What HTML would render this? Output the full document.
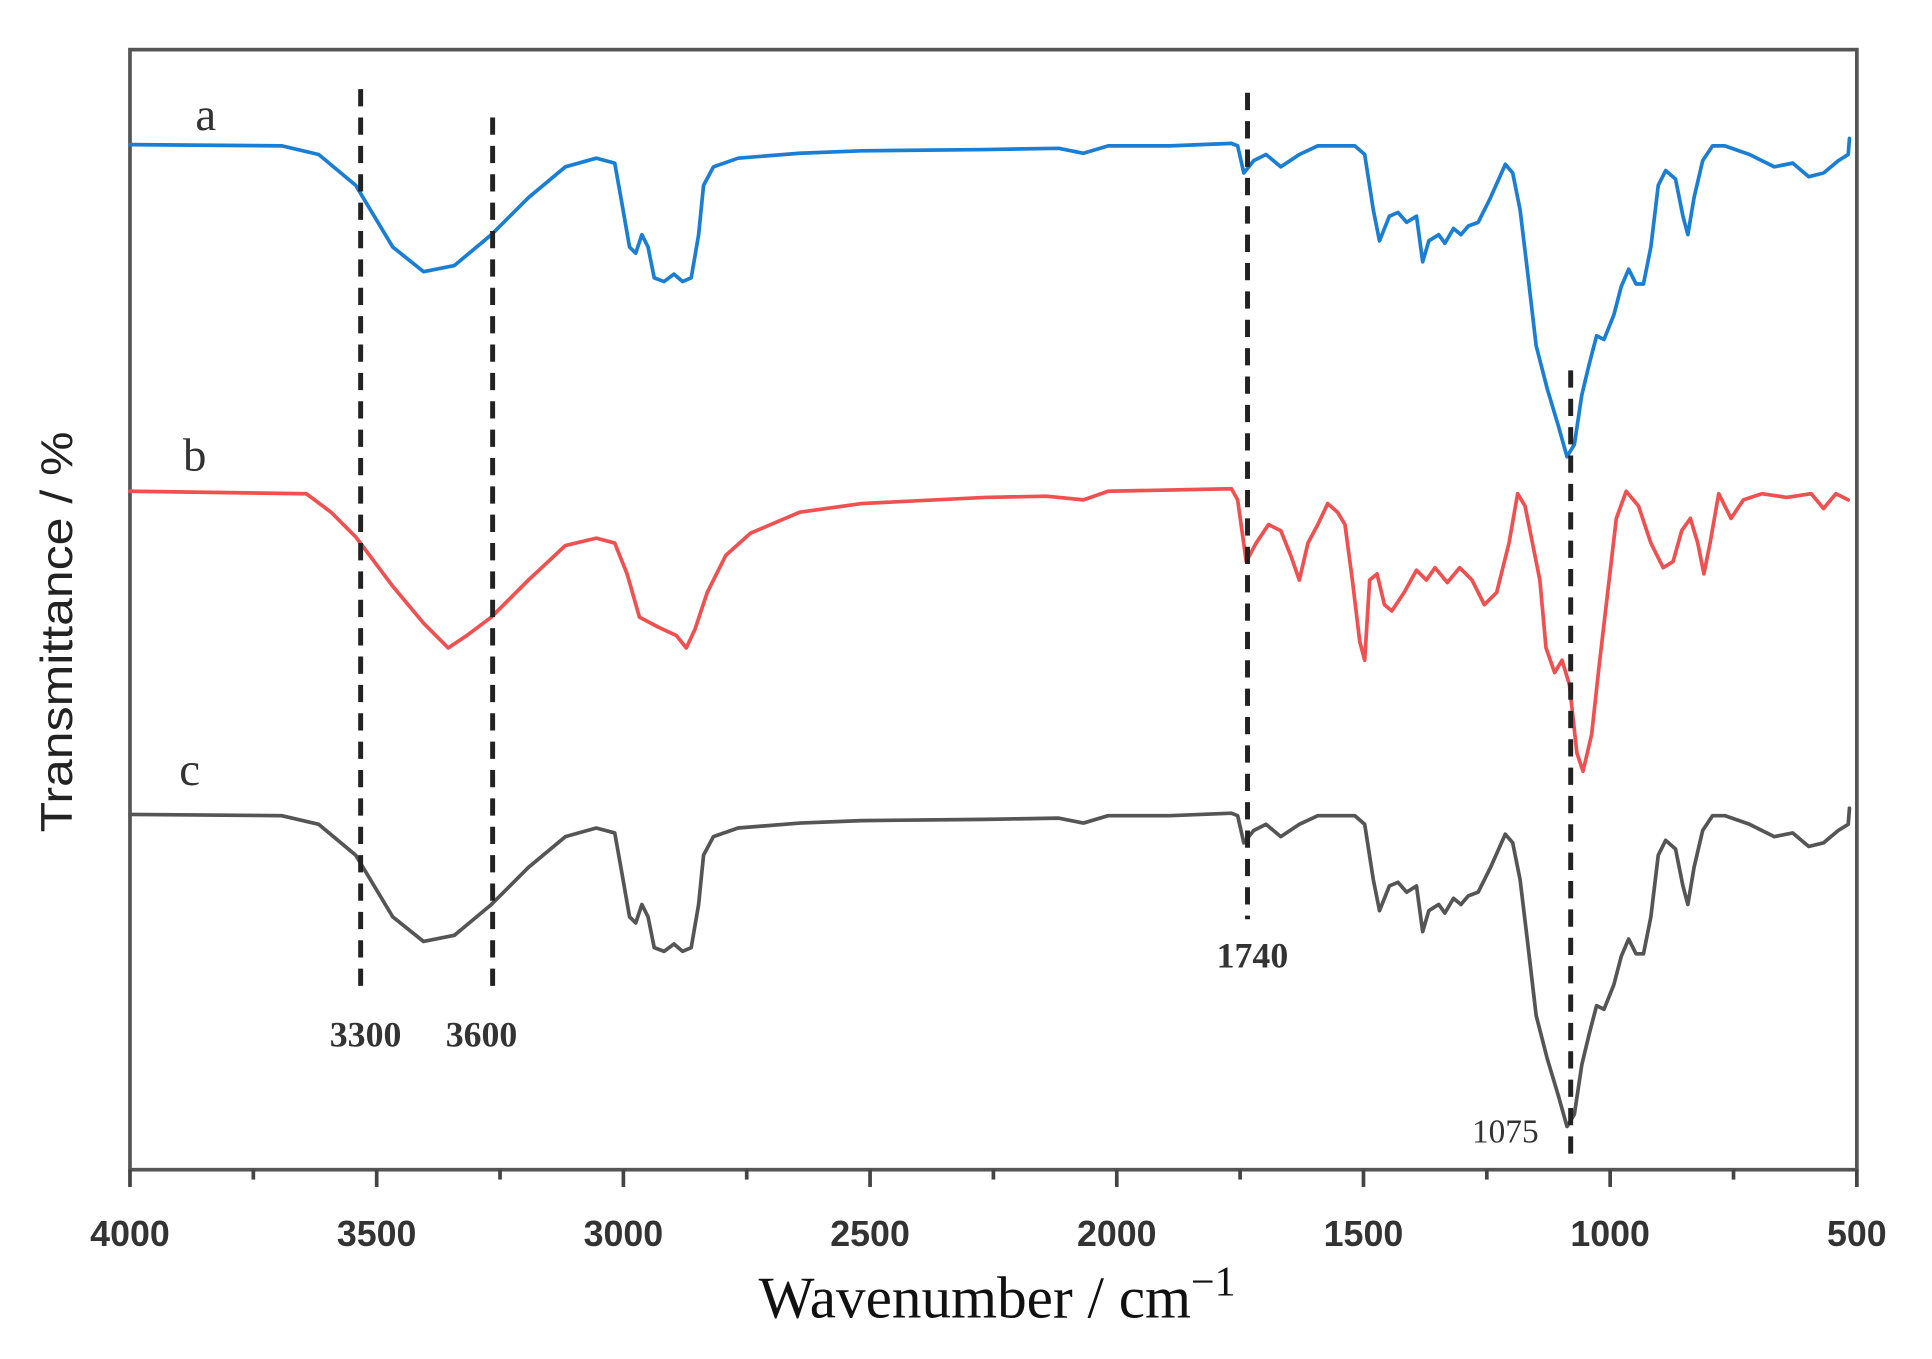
<!DOCTYPE html>
<html><head><meta charset="utf-8"><style>
html,body{margin:0;padding:0;background:#fff;}
svg{display:block;}
</style></head><body>
<svg width="1932" height="1359" viewBox="1.62 -0.24 1566.3 1101.7" preserveAspectRatio="none" xmlns="http://www.w3.org/2000/svg">
<rect x="-10" y="-10" width="1600" height="1120" fill="#fff"/>
<defs>
<polyline id="ca" fill="none" stroke-width="3" stroke-linejoin="round" stroke-linecap="round" points="107,117 230,118 260,125 290,150 320,200 345,220 370,215 400,190 430,160 460,135 485,128 500,132 505,160 512,200 517,205 522,190 527,200 532,225 540,228 548,222 555,228 562,225 568,190 572,150 580,135 600,128 650,124 700,122 800,121 860,120 880,124 900,118 950,118 1000,116 1005,118 1010,140 1018,130 1028,125 1040,135 1055,125 1070,118 1100,118 1108,125 1115,170 1120,195 1128,175 1135,172 1142,180 1150,175 1155,212 1160,195 1168,190 1173,197 1180,185 1186,190 1192,183 1200,180 1210,160 1222,133 1228,140 1234,170 1240,220 1247,280 1256,315 1265,345 1272,370 1278,360 1284,320 1290,295 1296,272 1302,275 1310,255 1316,232 1322,218 1328,230 1334,230 1340,200 1346,150 1352,138 1360,145 1366,175 1370,190 1375,160 1382,130 1390,118 1400,118 1420,125 1440,135 1455,132 1468,143 1480,140 1492,130 1500,125 1501,112"/>
</defs>
<g font-family="'Liberation Serif',serif" fill="#333">
<rect x="107" y="40" width="1400" height="908" fill="none" stroke="#555" stroke-width="3"/>
<g stroke="#444" stroke-width="3">
<line x1="107" y1="948" x2="107" y2="962"/><line x1="207" y1="948" x2="207" y2="956"/>
<line x1="307" y1="948" x2="307" y2="962"/><line x1="407" y1="948" x2="407" y2="956"/>
<line x1="507" y1="948" x2="507" y2="962"/><line x1="607" y1="948" x2="607" y2="956"/>
<line x1="707" y1="948" x2="707" y2="962"/><line x1="807" y1="948" x2="807" y2="956"/>
<line x1="907" y1="948" x2="907" y2="962"/><line x1="1007" y1="948" x2="1007" y2="956"/>
<line x1="1107" y1="948" x2="1107" y2="962"/><line x1="1207" y1="948" x2="1207" y2="956"/>
<line x1="1307" y1="948" x2="1307" y2="962"/><line x1="1407" y1="948" x2="1407" y2="956"/>
<line x1="1507" y1="948" x2="1507" y2="962"/>
</g>
<g font-family="'Liberation Sans',sans-serif" font-size="29" font-weight="bold" fill="#333" text-anchor="middle">
<text x="107" y="1010">4000</text><text x="307" y="1010">3500</text><text x="507" y="1010">3000</text>
<text x="707" y="1010">2500</text><text x="907" y="1010">2000</text><text x="1107" y="1010">1500</text>
<text x="1307" y="1010">1000</text><text x="1507" y="1010">500</text>
</g>
<text x="810" y="1068" font-size="48" text-anchor="middle" fill="#111">Wavenumber / cm<tspan font-size="34" dy="-18">−1</tspan></text>
<text transform="translate(60,512) rotate(-90)" font-family="'Liberation Sans',sans-serif" font-size="36" text-anchor="middle" fill="#222" textLength="325" lengthAdjust="spacingAndGlyphs">Transmittance / %</text>
<use href="#ca" stroke="#1a7fd4"/>
<use href="#ca" stroke="#555" transform="translate(0,543)"/>
<polyline fill="none" stroke="#f05050" stroke-width="3" stroke-linejoin="round" stroke-linecap="round" points="107,398 250,400 270,415 290,435 320,475 345,505 365,525 380,515 400,500 430,470 460,442 485,436 500,440 510,465 520,500 535,508 550,515 558,525 565,510 575,480 590,450 610,432 650,415 700,408 800,403 850,402 880,405 900,398 1000,396 1005,405 1012,455 1020,440 1030,425 1040,430 1048,450 1055,470 1062,440 1070,425 1078,408 1086,415 1092,425 1098,470 1104,520 1108,535 1112,470 1118,465 1124,490 1130,495 1140,480 1150,462 1158,470 1165,460 1175,472 1185,460 1195,470 1205,490 1215,480 1225,440 1232,400 1238,410 1244,440 1250,470 1255,525 1262,545 1268,535 1274,555 1280,610 1285,625 1292,595 1298,540 1305,480 1312,420 1320,398 1330,410 1340,440 1350,460 1358,455 1365,430 1372,420 1378,440 1383,465 1388,440 1395,400 1400,410 1405,420 1415,405 1430,400 1450,403 1470,400 1480,412 1490,400 1500,405"/>
<g stroke="#222" stroke-width="4" stroke-dasharray="14,9">
<line x1="294" y1="72" x2="294" y2="805"/>
<line x1="401" y1="95" x2="401" y2="805"/>
<line x1="1013" y1="75" x2="1013" y2="745"/>
<line x1="1275" y1="300" x2="1275" y2="938"/>
</g>
<g font-size="29" font-weight="bold" fill="#333" text-anchor="middle">
<text x="298" y="848">3300</text><text x="392" y="848">3600</text>
<text x="1017" y="784">1740</text>
</g>
<text x="1222" y="926" font-size="27" fill="#333" text-anchor="middle">1075</text>
<g font-size="38" fill="#333">
<text x="160" y="105">a</text><text x="150" y="381">b</text><text x="147" y="636">c</text>
</g>
</g>
</svg>
</body></html>
